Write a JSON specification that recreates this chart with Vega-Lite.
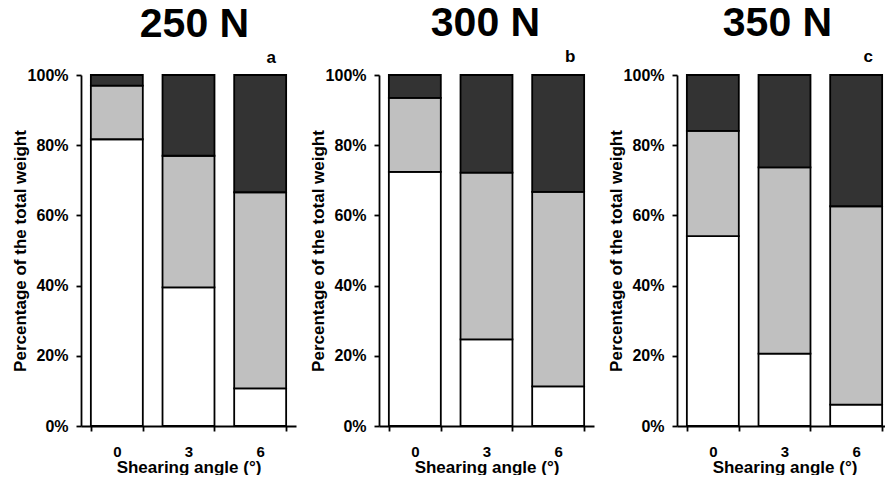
{
  "$schema": "https://vega.github.io/schema/vega-lite/v6.json",
  "padding": {"left": 11, "top": 3, "right": 0, "bottom": 0},
  "background": "white",
  "spacing": 13,
  "datasets": {
    "bars": [
      {"force": "250 N", "angle": "0", "part": "white", "ord": 1, "pct": 81.7},
      {"force": "250 N", "angle": "0", "part": "grey", "ord": 2, "pct": 15.3},
      {"force": "250 N", "angle": "0", "part": "dark", "ord": 3, "pct": 3.0},
      {"force": "250 N", "angle": "3", "part": "white", "ord": 1, "pct": 39.5},
      {"force": "250 N", "angle": "3", "part": "grey", "ord": 2, "pct": 37.5},
      {"force": "250 N", "angle": "3", "part": "dark", "ord": 3, "pct": 23.0},
      {"force": "250 N", "angle": "6", "part": "white", "ord": 1, "pct": 10.7},
      {"force": "250 N", "angle": "6", "part": "grey", "ord": 2, "pct": 55.9},
      {"force": "250 N", "angle": "6", "part": "dark", "ord": 3, "pct": 33.4},
      {"force": "300 N", "angle": "0", "part": "white", "ord": 1, "pct": 72.4},
      {"force": "300 N", "angle": "0", "part": "grey", "ord": 2, "pct": 21.1},
      {"force": "300 N", "angle": "0", "part": "dark", "ord": 3, "pct": 6.5},
      {"force": "300 N", "angle": "3", "part": "white", "ord": 1, "pct": 24.7},
      {"force": "300 N", "angle": "3", "part": "grey", "ord": 2, "pct": 47.5},
      {"force": "300 N", "angle": "3", "part": "dark", "ord": 3, "pct": 27.8},
      {"force": "300 N", "angle": "6", "part": "white", "ord": 1, "pct": 11.3},
      {"force": "300 N", "angle": "6", "part": "grey", "ord": 2, "pct": 55.4},
      {"force": "300 N", "angle": "6", "part": "dark", "ord": 3, "pct": 33.3},
      {"force": "350 N", "angle": "0", "part": "white", "ord": 1, "pct": 54.1},
      {"force": "350 N", "angle": "0", "part": "grey", "ord": 2, "pct": 30.0},
      {"force": "350 N", "angle": "0", "part": "dark", "ord": 3, "pct": 15.9},
      {"force": "350 N", "angle": "3", "part": "white", "ord": 1, "pct": 20.6},
      {"force": "350 N", "angle": "3", "part": "grey", "ord": 2, "pct": 53.1},
      {"force": "350 N", "angle": "3", "part": "dark", "ord": 3, "pct": 26.3},
      {"force": "350 N", "angle": "6", "part": "white", "ord": 1, "pct": 6.1},
      {"force": "350 N", "angle": "6", "part": "grey", "ord": 2, "pct": 56.5},
      {"force": "350 N", "angle": "6", "part": "dark", "ord": 3, "pct": 37.4}
    ],
    "letters": [
      {"force": "250 N", "angle": "6", "letter": "a", "top": 100},
      {"force": "300 N", "angle": "6", "letter": "b", "top": 100},
      {"force": "350 N", "angle": "6", "letter": "c", "top": 100}
    ]
  },
  "hconcat": [
    {
      "width": 215, "height": 351,
      "title": {"text": "250 N", "dx": 6},
      "layer": [
        {
          "data": {"name": "bars"},
          "transform": [{"filter": "datum.force === '250 N'"}],
          "mark": {"type": "bar", "stroke": "black", "strokeWidth": 1.8},
          "encoding": {
            "x": {"field": "angle", "type": "nominal", "scale": {"paddingInner": 0.275, "paddingOuter": 0.1375}, "axis": {"title": "Shearing angle (°)", "labelAngle": 0, "tickBand": "extent", "labelFontSize": 15, "labelPadding": 13, "titlePadding": 0, "labelBaseline": "top"}},
            "y": {"field": "pct", "type": "quantitative", "stack": "zero", "scale": {"domain": [0, 100]}, "axis": {"title": "Percentage of the total weight", "values": [0, 20, 40, 60, 80, 100], "labelExpr": "datum.value + '%'"}},
            "color": {"field": "part", "type": "nominal", "scale": {"domain": ["white", "grey", "dark"], "range": ["#ffffff", "#c0c0c0", "#333333"]}, "legend": null},
            "order": {"field": "ord", "type": "quantitative"}
          }
        },
        {
          "data": {"name": "letters"},
          "transform": [{"filter": "datum.force === '250 N'"}],
          "mark": {"type": "text", "font": "Liberation Sans", "fontWeight": "bold", "fontSize": 17, "baseline": "alphabetic", "dx": 11, "dy": -12, "clip": false},
          "encoding": {
            "x": {"field": "angle", "type": "nominal", "axis": {"title": "Shearing angle (°)", "labelAngle": 0, "tickBand": "extent", "labelFontSize": 15, "labelPadding": 13, "titlePadding": 0, "labelBaseline": "top"}},
            "y": {"field": "top", "type": "quantitative", "axis": {"title": "Percentage of the total weight", "values": [0, 20, 40, 60, 80, 100], "labelExpr": "datum.value + '%'"}},
            "text": {"field": "letter"}
          }
        }
      ]
    },
    {
      "width": 215, "height": 351,
      "title": {"text": "300 N", "dx": -1},
      "layer": [
        {
          "data": {"name": "bars"},
          "transform": [{"filter": "datum.force === '300 N'"}],
          "mark": {"type": "bar", "stroke": "black", "strokeWidth": 1.8},
          "encoding": {
            "x": {"field": "angle", "type": "nominal", "scale": {"paddingInner": 0.275, "paddingOuter": 0.1375}, "axis": {"title": "Shearing angle (°)", "labelAngle": 0, "tickBand": "extent", "labelFontSize": 15, "labelPadding": 13, "titlePadding": 0, "labelBaseline": "top"}},
            "y": {"field": "pct", "type": "quantitative", "stack": "zero", "scale": {"domain": [0, 100]}, "axis": {"title": "Percentage of the total weight", "values": [0, 20, 40, 60, 80, 100], "labelExpr": "datum.value + '%'"}},
            "color": {"field": "part", "type": "nominal", "scale": {"domain": ["white", "grey", "dark"], "range": ["#ffffff", "#c0c0c0", "#333333"]}, "legend": null},
            "order": {"field": "ord", "type": "quantitative"}
          }
        },
        {
          "data": {"name": "letters"},
          "transform": [{"filter": "datum.force === '300 N'"}],
          "mark": {"type": "text", "font": "Liberation Sans", "fontWeight": "bold", "fontSize": 17, "baseline": "alphabetic", "dx": 12, "dy": -13, "clip": false},
          "encoding": {
            "x": {"field": "angle", "type": "nominal", "axis": {"title": "Shearing angle (°)", "labelAngle": 0, "tickBand": "extent", "labelFontSize": 15, "labelPadding": 13, "titlePadding": 0, "labelBaseline": "top"}},
            "y": {"field": "top", "type": "quantitative", "axis": {"title": "Percentage of the total weight", "values": [0, 20, 40, 60, 80, 100], "labelExpr": "datum.value + '%'"}},
            "text": {"field": "letter"}
          }
        }
      ]
    },
    {
      "width": 215, "height": 351,
      "title": {"text": "350 N", "dx": -7},
      "layer": [
        {
          "data": {"name": "bars"},
          "transform": [{"filter": "datum.force === '350 N'"}],
          "mark": {"type": "bar", "stroke": "black", "strokeWidth": 1.8},
          "encoding": {
            "x": {"field": "angle", "type": "nominal", "scale": {"paddingInner": 0.275, "paddingOuter": 0.1375}, "axis": {"title": "Shearing angle (°)", "labelAngle": 0, "tickBand": "extent", "labelFontSize": 15, "labelPadding": 13, "titlePadding": 0, "labelBaseline": "top"}},
            "y": {"field": "pct", "type": "quantitative", "stack": "zero", "scale": {"domain": [0, 100]}, "axis": {"title": "Percentage of the total weight", "values": [0, 20, 40, 60, 80, 100], "labelExpr": "datum.value + '%'"}},
            "color": {"field": "part", "type": "nominal", "scale": {"domain": ["white", "grey", "dark"], "range": ["#ffffff", "#c0c0c0", "#333333"]}, "legend": null},
            "order": {"field": "ord", "type": "quantitative"}
          }
        },
        {
          "data": {"name": "letters"},
          "transform": [{"filter": "datum.force === '350 N'"}],
          "mark": {"type": "text", "font": "Liberation Sans", "fontWeight": "bold", "fontSize": 17, "baseline": "alphabetic", "dx": 12, "dy": -13, "clip": false},
          "encoding": {
            "x": {"field": "angle", "type": "nominal", "axis": {"title": "Shearing angle (°)", "labelAngle": 0, "tickBand": "extent", "labelFontSize": 15, "labelPadding": 13, "titlePadding": 0, "labelBaseline": "top"}},
            "y": {"field": "top", "type": "quantitative", "axis": {"title": "Percentage of the total weight", "values": [0, 20, 40, 60, 80, 100], "labelExpr": "datum.value + '%'"}},
            "text": {"field": "letter"}
          }
        }
      ]
    }
  ],
  "resolve": {"scale": {"color": "shared"}},
  "config": {
    "view": {"stroke": null},
    "axis": {
      "grid": false,
      "domainColor": "black",
      "domainWidth": 1.8,
      "tickColor": "black",
      "tickWidth": 1.8,
      "tickSize": 5,
      "labelFont": "Liberation Sans",
      "labelFontWeight": "bold",
      "labelColor": "black",
      "titleFont": "Liberation Sans",
      "titleFontWeight": "bold",
      "titleColor": "black",
      "titleFontSize": 17
    },
    "axisY": {"labelFontSize": 16, "labelPadding": 8, "minExtent": 52, "maxExtent": 52, "titlePadding": 0},
    "title": {"font": "Liberation Sans", "fontWeight": "bold", "fontSize": 41, "color": "black", "anchor": "middle", "frame": "group", "baseline": "alphabetic", "offset": 3}
  }
}
